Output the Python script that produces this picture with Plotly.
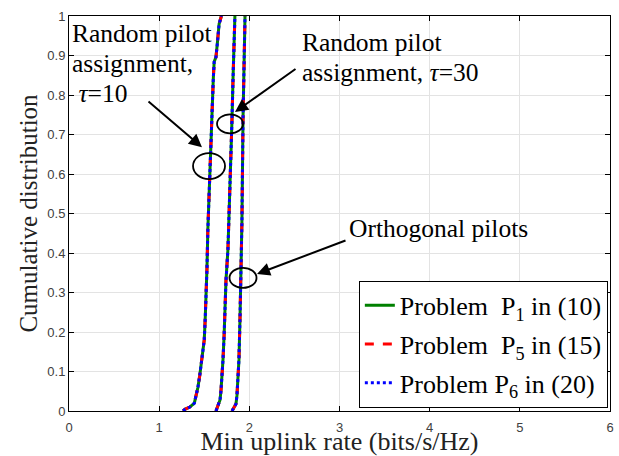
import plotly.graph_objects as go

# ---- data ----
# CDF levels and min uplink rates for each scenario
cdf_tau10 = [0, .005, .01, .02, .04, .06, .09, .13, .18, .23, .28, .36, .46, .56, .66, .74, .84, .884, .896, .93, .98, 1.0]
rate_tau10 = [1.265, 1.29, 1.34, 1.39, 1.41, 1.43, 1.45, 1.475, 1.50, 1.51, 1.52, 1.53, 1.54, 1.555, 1.565, 1.585, 1.60, 1.61, 1.63, 1.645, 1.665, 1.69]

cdf_tau30 = [0, .013, .028, .053, .084, .13, .19, .27, .33, .41, .56, .74, .84, .94, 1.0]
rate_tau30 = [1.63, 1.65, 1.675, 1.686, 1.697, 1.708, 1.72, 1.73, 1.741, 1.763, 1.786, 1.808, 1.819, 1.83, 1.84]

cdf_orth = [0, .008, .018, .04, .078, .13, .23, .33, .48, .74, .89, 1.0]
rate_orth = [1.808, 1.83, 1.852, 1.863, 1.874, 1.885, 1.896, 1.907, 1.918, 1.93, 1.94, 1.952]

problems = ["Problem&nbsp;&nbsp;P<sub>1</sub>&nbsp;in (10)",
            "Problem&nbsp;&nbsp;P<sub>5</sub>&nbsp;in (15)",
            "Problem P<sub>6</sub>&nbsp;in (20)"]
colors = ["#008000", "#ff0000", "#0000ff"]
dashes = ["solid", "dash", "dot"]

x_ticks = [0, 1, 2, 3, 4, 5, 6]
y_ticks = [0, .1, .2, .3, .4, .5, .6, .7, .8, .9, 1]

curves = [(rate_tau10, cdf_tau10), (rate_tau30, cdf_tau30), (rate_orth, cdf_orth)]

SERIF = "Liberation Serif"
SANS = "Liberation Sans"

fig = go.Figure()
for i, (name, col, dsh) in enumerate(zip(problems, colors, dashes)):
    for j, (xs, ys) in enumerate(curves):
        fig.add_trace(go.Scatter(
            x=xs, y=ys, mode="lines", name=name,
            legendgroup=f"g{i}", showlegend=(j == 0),
            line=dict(color=col, width=3, dash=dsh),
        ))

# ellipses (center in data coords, size in pixels)
ellipses = [(1.553, 0.620, 32, 26), (1.786, 0.727, 26, 19), (1.930, 0.337, 27, 20)]
for cx, cy, w, h in ellipses:
    fig.add_shape(type="circle", xref="x", yref="y",
                  xsizemode="pixel", ysizemode="pixel",
                  xanchor=cx, yanchor=cy,
                  x0=-w / 2, x1=w / 2, y0=-h / 2, y1=h / 2,
                  line=dict(color="black", width=1.8))

# arrows (head in data coords, tail offset in pixels)
arrows = [(1.475, 0.668, -55, -47), (1.841, 0.757, 62, -44), (2.085, 0.347, 90, -34)]
for hx, hy, ax, ay in arrows:
    fig.add_annotation(x=hx, y=hy, xref="x", yref="y", ax=ax, ay=ay,
                       text="", showarrow=True, arrowhead=2, arrowsize=1.3,
                       arrowwidth=2, arrowcolor="black")

# text labels, one per line (paper coords)
labels = [
    ("Random pilot", 0.0018, 0.955),
    ("assignment,", 0.0018, 0.881),
    ("&nbsp;<i>τ</i>=10", 0.0018, 0.805),
    ("Random pilot", 0.427, 0.932),
    ("assignment, <i>τ</i>=30", 0.427, 0.858),
    ("Orthogonal pilots", 0.514, 0.461),
]
for txt, px, py in labels:
    fig.add_annotation(x=px, y=py, xref="paper", yref="paper", text=txt,
                       showarrow=False, xanchor="left", yanchor="middle", align="left",
                       font=dict(family=SERIF, size=25.5, color="black"))

fig.update_layout(
    width=619, height=456,
    margin=dict(l=69, r=9, t=16, b=45),
    paper_bgcolor="white", plot_bgcolor="white",
    showlegend=True,
    legend=dict(x=0.996, y=0.008, xanchor="right", yanchor="bottom",
                bgcolor="white", bordercolor="black", borderwidth=1,
                font=dict(family=SERIF, size=26, color="black"),
                itemwidth=30, tracegroupgap=2),
)
fig.update_xaxes(range=[0, 6], tickvals=x_ticks, showgrid=True, gridcolor="#e3e3e3",
                 showline=True, linecolor="black", linewidth=1, mirror="ticks",
                 ticks="inside", ticklen=5, tickcolor="black", zeroline=False,
                 automargin=False, ticklabelstandoff=4,
                 tickfont=dict(family=SANS, size=13, color="#404040"),
                 title=dict(text="Min uplink rate (bits/s/Hz)", standoff=3,
                            font=dict(family=SERIF, size=26, color="#222")))
fig.update_yaxes(range=[0, 1], tickvals=y_ticks, showgrid=True, gridcolor="#e3e3e3",
                 showline=True, linecolor="black", linewidth=1, mirror="ticks",
                 ticks="inside", ticklen=5, tickcolor="black", zeroline=False,
                 automargin=False,
                 tickfont=dict(family=SANS, size=13, color="#404040"),
                 title=dict(text="Cumulative distribution", standoff=2,
                            font=dict(family=SERIF, size=25, color="#222")))

fig.write_html("out.html", config={"displayModeBar": False},
               post_script="document.body.style.margin='0';document.body.style.overflow='hidden';")
